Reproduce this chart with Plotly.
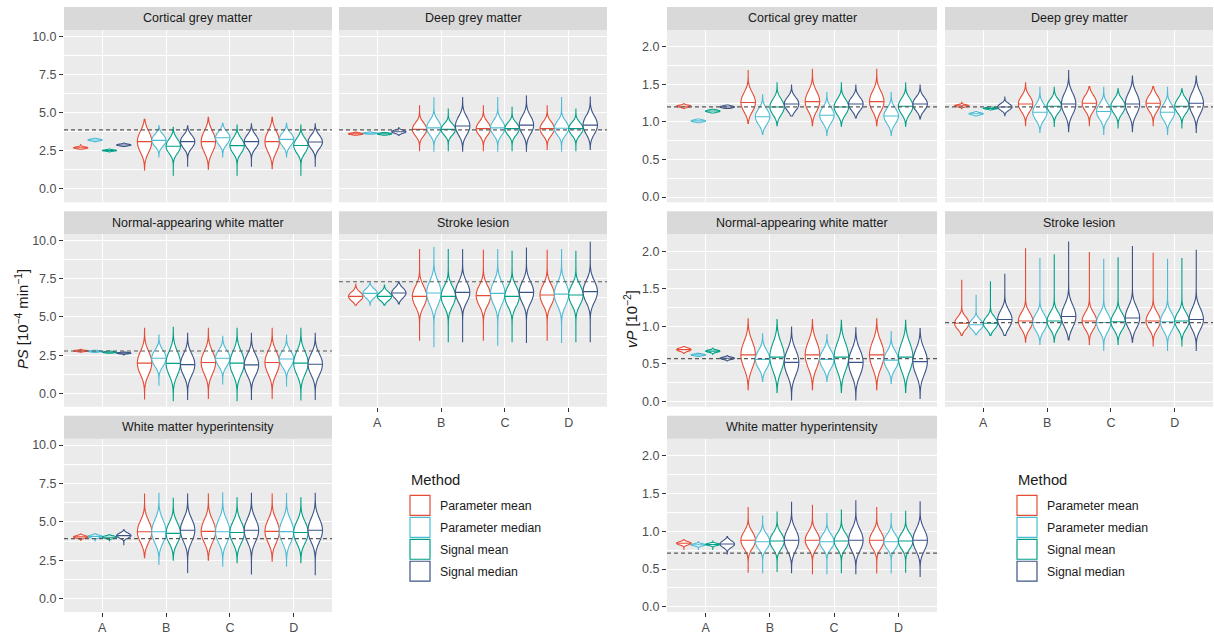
import plotly.graph_objects as go

W, H = 1214, 640
FONT = "Liberation Sans, Arial, sans-serif"

CATEGORIES = ["A", "B", "C", "D"]
METHODS = ["Parameter mean", "Parameter median", "Signal mean", "Signal median"]
COLORS = ["#E64B35", "#4DBBD5", "#00A087", "#3C5488"]
TISSUES = ["Cortical grey matter", "Deep grey matter", "Normal-appearing white matter",
           "Stroke lesion", "White matter hyperintensity"]

# ---- PS [1e-4 /min]; each violin = (min, q1, median, q3, max) for A, B, C, D ----
ps_cgm_pmean = [(2.60, 2.66, 2.70, 2.74, 2.95), (1.25, 2.62, 3.10, 3.55, 4.56), (1.29, 2.62, 3.10, 3.55, 4.69), (1.33, 2.62, 3.10, 3.55, 4.69)]
ps_cgm_pmedian = [(3.10, 3.17, 3.21, 3.25, 3.32), (2.09, 2.93, 3.18, 3.45, 4.13), (2.09, 3.05, 3.35, 3.62, 4.30), (2.10, 2.95, 3.25, 3.52, 4.30)]
ps_cgm_smean = [(2.42, 2.49, 2.52, 2.55, 2.62), (0.86, 2.48, 2.80, 3.12, 4.04), (0.86, 2.50, 2.84, 3.15, 4.19), (0.86, 2.50, 2.85, 3.15, 4.19)]
ps_cgm_smedian = [(2.78, 2.84, 2.88, 2.92, 3.00), (1.46, 2.80, 3.10, 3.38, 4.13), (1.46, 2.80, 3.10, 3.40, 4.26), (1.46, 2.78, 3.08, 3.38, 4.26)]

ps_dgm_pmean = [(3.52, 3.57, 3.61, 3.65, 3.72), (2.47, 3.62, 3.90, 4.20, 5.48), (2.47, 3.65, 3.95, 4.25, 5.48), (2.58, 3.65, 3.95, 4.25, 5.48)]
ps_dgm_pmedian = [(3.58, 3.62, 3.65, 3.68, 3.74), (2.47, 3.70, 4.00, 4.35, 6.00), (2.47, 3.70, 4.00, 4.35, 6.02), (2.47, 3.68, 3.98, 4.30, 6.02)]
ps_dgm_smean = [(3.52, 3.57, 3.61, 3.65, 3.70), (2.47, 3.65, 3.90, 4.15, 5.27), (2.47, 3.65, 3.95, 4.20, 5.38), (2.47, 3.65, 3.95, 4.20, 5.27)]
ps_dgm_smedian = [(3.50, 3.68, 3.75, 3.82, 4.02), (2.47, 3.75, 4.12, 4.55, 6.02), (2.47, 3.80, 4.18, 4.60, 6.13), (2.58, 3.80, 4.18, 4.60, 6.06)]

ps_nawm_pmean = [(2.70, 2.75, 2.78, 2.81, 2.88), (-0.37, 1.48, 1.98, 2.50, 4.26), (-0.37, 1.50, 2.02, 2.50, 4.26), (-0.37, 1.50, 2.02, 2.50, 4.26)]
ps_nawm_pmedian = [(2.68, 2.72, 2.75, 2.78, 2.82), (0.50, 1.95, 2.30, 2.65, 3.82), (0.61, 1.95, 2.30, 2.65, 3.73), (0.44, 1.90, 2.25, 2.60, 3.82)]
ps_nawm_smean = [(2.62, 2.66, 2.69, 2.72, 2.78), (-0.48, 1.45, 1.96, 2.50, 4.32), (-0.48, 1.48, 1.98, 2.50, 4.26), (-0.48, 1.48, 1.98, 2.50, 4.26)]
ps_nawm_smedian = [(2.50, 2.60, 2.63, 2.66, 2.70), (-0.44, 1.40, 1.88, 2.35, 3.93), (-0.44, 1.40, 1.86, 2.33, 3.93), (-0.44, 1.42, 1.90, 2.36, 3.93)]

ps_stroke_pmean = [(5.78, 6.15, 6.35, 6.55, 7.16), (3.45, 5.90, 6.35, 6.80, 9.45), (3.45, 5.95, 6.40, 6.85, 9.41), (3.45, 6.00, 6.44, 6.90, 9.41)]
ps_stroke_pmedian = [(5.78, 6.35, 6.55, 6.75, 7.23), (3.01, 6.05, 6.57, 7.10, 9.60), (3.12, 6.05, 6.55, 7.05, 9.45), (3.30, 6.00, 6.50, 7.00, 9.45)]
ps_stroke_smean = [(5.78, 6.17, 6.35, 6.55, 7.10), (3.34, 5.90, 6.35, 6.80, 9.45), (3.34, 5.90, 6.35, 6.80, 9.34), (3.34, 6.00, 6.44, 6.88, 9.34)]
ps_stroke_smedian = [(5.85, 6.35, 6.57, 6.80, 7.31), (3.34, 6.20, 6.61, 7.10, 9.45), (3.30, 6.15, 6.61, 7.10, 9.56), (3.34, 6.20, 6.66, 7.15, 9.93)]

ps_wmh_pmean = [(3.78, 3.96, 4.02, 4.08, 4.20), (2.67, 3.90, 4.35, 4.85, 6.85), (2.50, 3.90, 4.38, 4.90, 6.85), (2.43, 3.90, 4.38, 4.90, 6.85)]
ps_wmh_pmedian = [(3.70, 3.98, 4.05, 4.10, 4.24), (2.24, 3.90, 4.35, 4.90, 6.89), (2.11, 3.90, 4.35, 4.90, 6.89), (2.11, 3.90, 4.36, 4.90, 6.85)]
ps_wmh_smean = [(3.72, 3.95, 4.00, 4.06, 4.15), (2.50, 3.85, 4.25, 4.75, 6.57), (2.33, 3.85, 4.30, 4.80, 6.57), (2.33, 3.85, 4.30, 4.80, 6.57)]
ps_wmh_smedian = [(3.48, 4.00, 4.10, 4.22, 4.50), (1.67, 3.95, 4.45, 4.95, 6.85), (1.57, 3.95, 4.45, 4.95, 6.89), (1.52, 3.95, 4.45, 4.98, 6.89)]

ps_reference = [3.87, 3.87, 2.77, 7.31, 3.91]

# ---- vP [1e-2]; each violin = (min, q1, median, q3, max) for A, B, C, D ----
vp_cgm_pmean = [(1.18, 1.20, 1.21, 1.22, 1.245), (0.98, 1.18, 1.26, 1.35, 1.69), (0.95, 1.19, 1.27, 1.37, 1.70), (0.95, 1.19, 1.27, 1.37, 1.70)]
vp_cgm_pmedian = [(0.99, 1.005, 1.015, 1.025, 1.04), (0.835, 1.00, 1.07, 1.14, 1.36), (0.82, 1.02, 1.09, 1.16, 1.39), (0.82, 1.01, 1.08, 1.15, 1.39)]
vp_cgm_smean = [(1.12, 1.135, 1.145, 1.155, 1.17), (0.95, 1.13, 1.20, 1.27, 1.52), (0.945, 1.13, 1.20, 1.27, 1.52), (0.945, 1.14, 1.21, 1.28, 1.52)]
vp_cgm_smedian = [(1.18, 1.19, 1.20, 1.21, 1.225), (1.08, 1.18, 1.24, 1.30, 1.49), (1.055, 1.18, 1.24, 1.30, 1.49), (1.04, 1.18, 1.24, 1.30, 1.49)]

vp_dgm_pmean = [(1.175, 1.205, 1.215, 1.225, 1.27), (0.95, 1.17, 1.24, 1.31, 1.52), (0.95, 1.18, 1.25, 1.32, 1.47), (0.95, 1.18, 1.25, 1.32, 1.47)]
vp_dgm_pmedian = [(1.08, 1.10, 1.11, 1.12, 1.14), (0.86, 1.06, 1.13, 1.20, 1.46), (0.835, 1.07, 1.14, 1.21, 1.46), (0.835, 1.06, 1.13, 1.20, 1.46)]
vp_dgm_smean = [(1.16, 1.175, 1.18, 1.19, 1.20), (0.94, 1.15, 1.21, 1.27, 1.46), (0.92, 1.14, 1.21, 1.27, 1.44), (0.92, 1.15, 1.21, 1.28, 1.44)]
vp_dgm_smedian = [(1.085, 1.17, 1.20, 1.23, 1.33), (0.87, 1.15, 1.24, 1.34, 1.69), (0.87, 1.15, 1.24, 1.34, 1.61), (0.86, 1.16, 1.25, 1.35, 1.61)]

vp_nawm_pmean = [(0.64, 0.675, 0.69, 0.705, 0.73), (0.155, 0.50, 0.62, 0.74, 1.10), (0.155, 0.50, 0.62, 0.74, 1.09), (0.155, 0.50, 0.62, 0.74, 1.10)]
vp_nawm_pmedian = [(0.60, 0.612, 0.62, 0.628, 0.64), (0.265, 0.48, 0.56, 0.64, 0.90), (0.265, 0.48, 0.56, 0.64, 0.89), (0.24, 0.47, 0.55, 0.63, 0.93)]
vp_nawm_smean = [(0.62, 0.66, 0.67, 0.68, 0.71), (0.12, 0.47, 0.59, 0.72, 1.09), (0.12, 0.47, 0.59, 0.72, 1.08), (0.12, 0.47, 0.59, 0.72, 1.08)]
vp_nawm_smedian = [(0.54, 0.565, 0.575, 0.585, 0.61), (0.02, 0.40, 0.52, 0.63, 0.99), (0.02, 0.40, 0.52, 0.63, 0.98), (0.04, 0.41, 0.53, 0.64, 0.97)]

vp_stroke_pmean = [(0.88, 0.99, 1.04, 1.10, 1.62), (0.79, 1.00, 1.07, 1.15, 2.04), (0.76, 1.00, 1.07, 1.15, 1.99), (0.74, 1.00, 1.07, 1.15, 1.98)]
vp_stroke_pmedian = [(0.89, 0.98, 1.02, 1.07, 1.42), (0.76, 0.98, 1.05, 1.13, 1.91), (0.68, 0.97, 1.05, 1.13, 1.90), (0.68, 0.98, 1.06, 1.14, 1.90)]
vp_stroke_smean = [(0.88, 0.99, 1.04, 1.10, 1.60), (0.79, 1.00, 1.07, 1.15, 1.96), (0.76, 0.99, 1.06, 1.14, 1.92), (0.74, 1.00, 1.07, 1.15, 1.91)]
vp_stroke_smedian = [(0.88, 1.02, 1.09, 1.18, 1.70), (0.82, 1.04, 1.13, 1.24, 2.13), (0.79, 1.03, 1.11, 1.22, 2.07), (0.68, 1.01, 1.09, 1.20, 2.02)]

vp_wmh_pmean = [(0.76, 0.825, 0.84, 0.855, 0.89), (0.45, 0.81, 0.88, 0.96, 1.32), (0.43, 0.81, 0.88, 0.96, 1.35), (0.44, 0.81, 0.88, 0.96, 1.32)]
vp_wmh_pmedian = [(0.75, 0.81, 0.82, 0.83, 0.87), (0.45, 0.80, 0.86, 0.93, 1.20), (0.43, 0.80, 0.86, 0.93, 1.24), (0.44, 0.80, 0.86, 0.93, 1.24)]
vp_wmh_smean = [(0.75, 0.815, 0.825, 0.835, 0.87), (0.46, 0.80, 0.87, 0.94, 1.26), (0.45, 0.80, 0.87, 0.94, 1.28), (0.45, 0.80, 0.87, 0.94, 1.27)]
vp_wmh_smedian = [(0.70, 0.80, 0.83, 0.86, 0.93), (0.45, 0.79, 0.88, 0.98, 1.39), (0.43, 0.79, 0.88, 0.98, 1.41), (0.40, 0.79, 0.88, 0.98, 1.39)]

vp_reference = [1.20, 1.20, 0.57, 1.05, 0.71]

ps_facets = [
    [ps_cgm_pmean, ps_cgm_pmedian, ps_cgm_smean, ps_cgm_smedian],
    [ps_dgm_pmean, ps_dgm_pmedian, ps_dgm_smean, ps_dgm_smedian],
    [ps_nawm_pmean, ps_nawm_pmedian, ps_nawm_smean, ps_nawm_smedian],
    [ps_stroke_pmean, ps_stroke_pmedian, ps_stroke_smean, ps_stroke_smedian],
    [ps_wmh_pmean, ps_wmh_pmedian, ps_wmh_smean, ps_wmh_smedian],
]
vp_facets = [
    [vp_cgm_pmean, vp_cgm_pmedian, vp_cgm_smean, vp_cgm_smedian],
    [vp_dgm_pmean, vp_dgm_pmedian, vp_dgm_smean, vp_dgm_smedian],
    [vp_nawm_pmean, vp_nawm_pmedian, vp_nawm_smean, vp_nawm_smedian],
    [vp_stroke_pmean, vp_stroke_pmedian, vp_stroke_smean, vp_stroke_smedian],
    [vp_wmh_pmean, vp_wmh_pmedian, vp_wmh_smean, vp_wmh_smedian],
]

# ---- layout geometry (pixels) ----
FACET_CELLS = [(0, 0), (0, 1), (1, 0), (1, 1), (2, 0)]
BOTTOM_CELLS = {(2, 0), (1, 1)}
ROWS = [(30, 203), (235, 408), (440, 614)]
STRIPS = [(7, 30), (212, 235), (417, 440)]

PANELS = [
    dict(data=ps_facets, refs=ps_reference, yrange=[-0.88, 10.42], dtick=2.5, minor=1.25,
         cols=[(64, 332), (339, 607)], title="<i>PS</i> [10<sup>−4</sup> min<sup>−1</sup>]",
         title_x=22, legend_x=410),
    dict(data=vp_facets, refs=vp_reference, yrange=[-0.07, 2.225], dtick=0.5, minor=0.25,
         cols=[(667, 937), (945, 1213)], title="<i>vP</i> [10<sup>−2</sup>]",
         title_x=631, legend_x=1017),
]


def fx(p):
    return p / W


def fy(p):
    return 1 - p / H


fig = go.Figure()
layout = {}
shapes = []
annotations = []
tick_font = dict(family=FONT, size=12.5, color="#4D4D4D")

k = 0
for panel in PANELS:
    for t, tissue in enumerate(TISSUES):
        k += 1
        r, c = FACET_CELLS[t]
        x0, x1 = panel["cols"][c]
        y0, y1 = ROWS[r]
        s0, s1 = STRIPS[r]
        sfx = "" if k == 1 else str(k)
        xname, yname = "x" + sfx, "y" + sfx
        bottom = (r, c) in BOTTOM_CELLS

        layout["xaxis" + sfx] = dict(
            domain=[fx(x0), fx(x1)], anchor=yname, type="category",
            categoryorder="array", categoryarray=CATEGORIES, range=[-0.6, 3.6],
            showgrid=True, gridcolor="white", gridwidth=1.2, zeroline=False, showline=False,
            showticklabels=bottom, ticks="outside" if bottom else "", ticklen=4,
            tickcolor="#333333", tickwidth=1, tickfont=tick_font, fixedrange=True)
        layout["yaxis" + sfx] = dict(
            domain=[fy(y1), fy(y0)], anchor=xname, range=panel["yrange"],
            tickmode="linear", tick0=0, dtick=panel["dtick"], tickformat=".1f",
            showticklabels=(c == 0), ticks="outside" if c == 0 else "", ticklen=4,
            tickcolor="#333333", tickwidth=1, tickfont=tick_font,
            showgrid=True, gridcolor="white", gridwidth=1.2, zeroline=False, showline=False,
            minor=dict(dtick=panel["minor"], showgrid=True, gridcolor="white", gridwidth=0.55, ticks=""),
            fixedrange=True)

        # strip
        shapes.append(dict(type="rect", xref="paper", yref="paper", x0=fx(x0), x1=fx(x1),
                           y0=fy(s1), y1=fy(s0), fillcolor="#D9D9D9", line=dict(width=0), layer="below"))
        annotations.append(dict(text=tissue, xref="paper", yref="paper", x=fx((x0 + x1) / 2),
                                y=fy((s0 + s1) / 2), showarrow=False, xanchor="center", yanchor="middle",
                                font=dict(family=FONT, size=12.5, color="#1A1A1A")))

        stats_by_method = panel["data"][t]
        for m, method in enumerate(METHODS):
            stats = stats_by_method[m]
            for ci, cat in enumerate(CATEGORIES):
                vmin, q1, med, q3, vmax = stats[ci]
                fig.add_trace(go.Violin(
                    x=[cat, cat, cat], y=[q1, med, q3], xaxis=xname, yaxis=yname,
                    offsetgroup=method, alignmentgroup="g", name=method,
                    scalegroup=f"s{k}_{m}_{ci}", scalemode="width",
                    spanmode="manual", span=[vmin, vmax], bandwidth=(q3 - q1) / 2,
                    line=dict(color=COLORS[m], width=1.1), fillcolor="white",
                    points=False, hoverinfo="skip", showlegend=False))
        for m, method in enumerate(METHODS):
            meds = [v[2] for v in stats_by_method[m]]
            fig.add_trace(go.Box(
                x=CATEGORIES, q1=meds, median=meds, q3=meds, lowerfence=meds, upperfence=meds,
                xaxis=xname, yaxis=yname, offsetgroup=method, alignmentgroup="g", name=method,
                line=dict(color=COLORS[m], width=1.1), fillcolor="rgba(0,0,0,0)",
                boxpoints=False, whiskerwidth=0, hoverinfo="skip", showlegend=False))

        # reference (true value) dashed line
        ref = panel["refs"][t]
        shapes.append(dict(type="line", xref=f"{xname} domain", yref=yname, x0=0, x1=1, y0=ref, y1=ref,
                           line=dict(color="#595959", width=1.2, dash="4px,3px"), layer="above"))

    # y-axis title
    annotations.append(dict(text=panel["title"], xref="paper", yref="paper", x=fx(panel["title_x"]),
                            y=fy(320), textangle=-90, showarrow=False, xanchor="center", yanchor="middle",
                            font=dict(family=FONT, size=14.8, color="#1A1A1A")))
    # legend (drawn)
    lx = panel["legend_x"]
    annotations.append(dict(text="Method", xref="paper", yref="paper", x=fx(lx - 1), y=fy(482),
                            showarrow=False, xanchor="left", yanchor="middle",
                            font=dict(family=FONT, size=14.8, color="#1A1A1A")))
    for i, method in enumerate(METHODS):
        top = 497 + 22 * i
        shapes.append(dict(type="rect", xref="paper", yref="paper", x0=fx(lx), x1=fx(lx + 20),
                           y0=fy(top + 20), y1=fy(top), fillcolor="white",
                           line=dict(color=COLORS[i], width=1.2)))
        annotations.append(dict(text=method, xref="paper", yref="paper", x=fx(lx + 28), y=fy(top + 11),
                                showarrow=False, xanchor="left", yanchor="middle",
                                font=dict(family=FONT, size=12.3, color="#1A1A1A")))

fig.update_layout(
    width=W, height=H, margin=dict(l=0, r=0, t=0, b=0),
    paper_bgcolor="white", plot_bgcolor="#EBEBEB",
    violinmode="group", violingap=0.1, violingroupgap=0,
    boxmode="group", boxgap=0.1, boxgroupgap=0,
    showlegend=False, hovermode=False,
    shapes=shapes, annotations=annotations,
    font=dict(family=FONT),
    **layout)

fig.write_html("out.html", config={"displayModeBar": False},
               post_script="document.body.style.margin='0px';")
